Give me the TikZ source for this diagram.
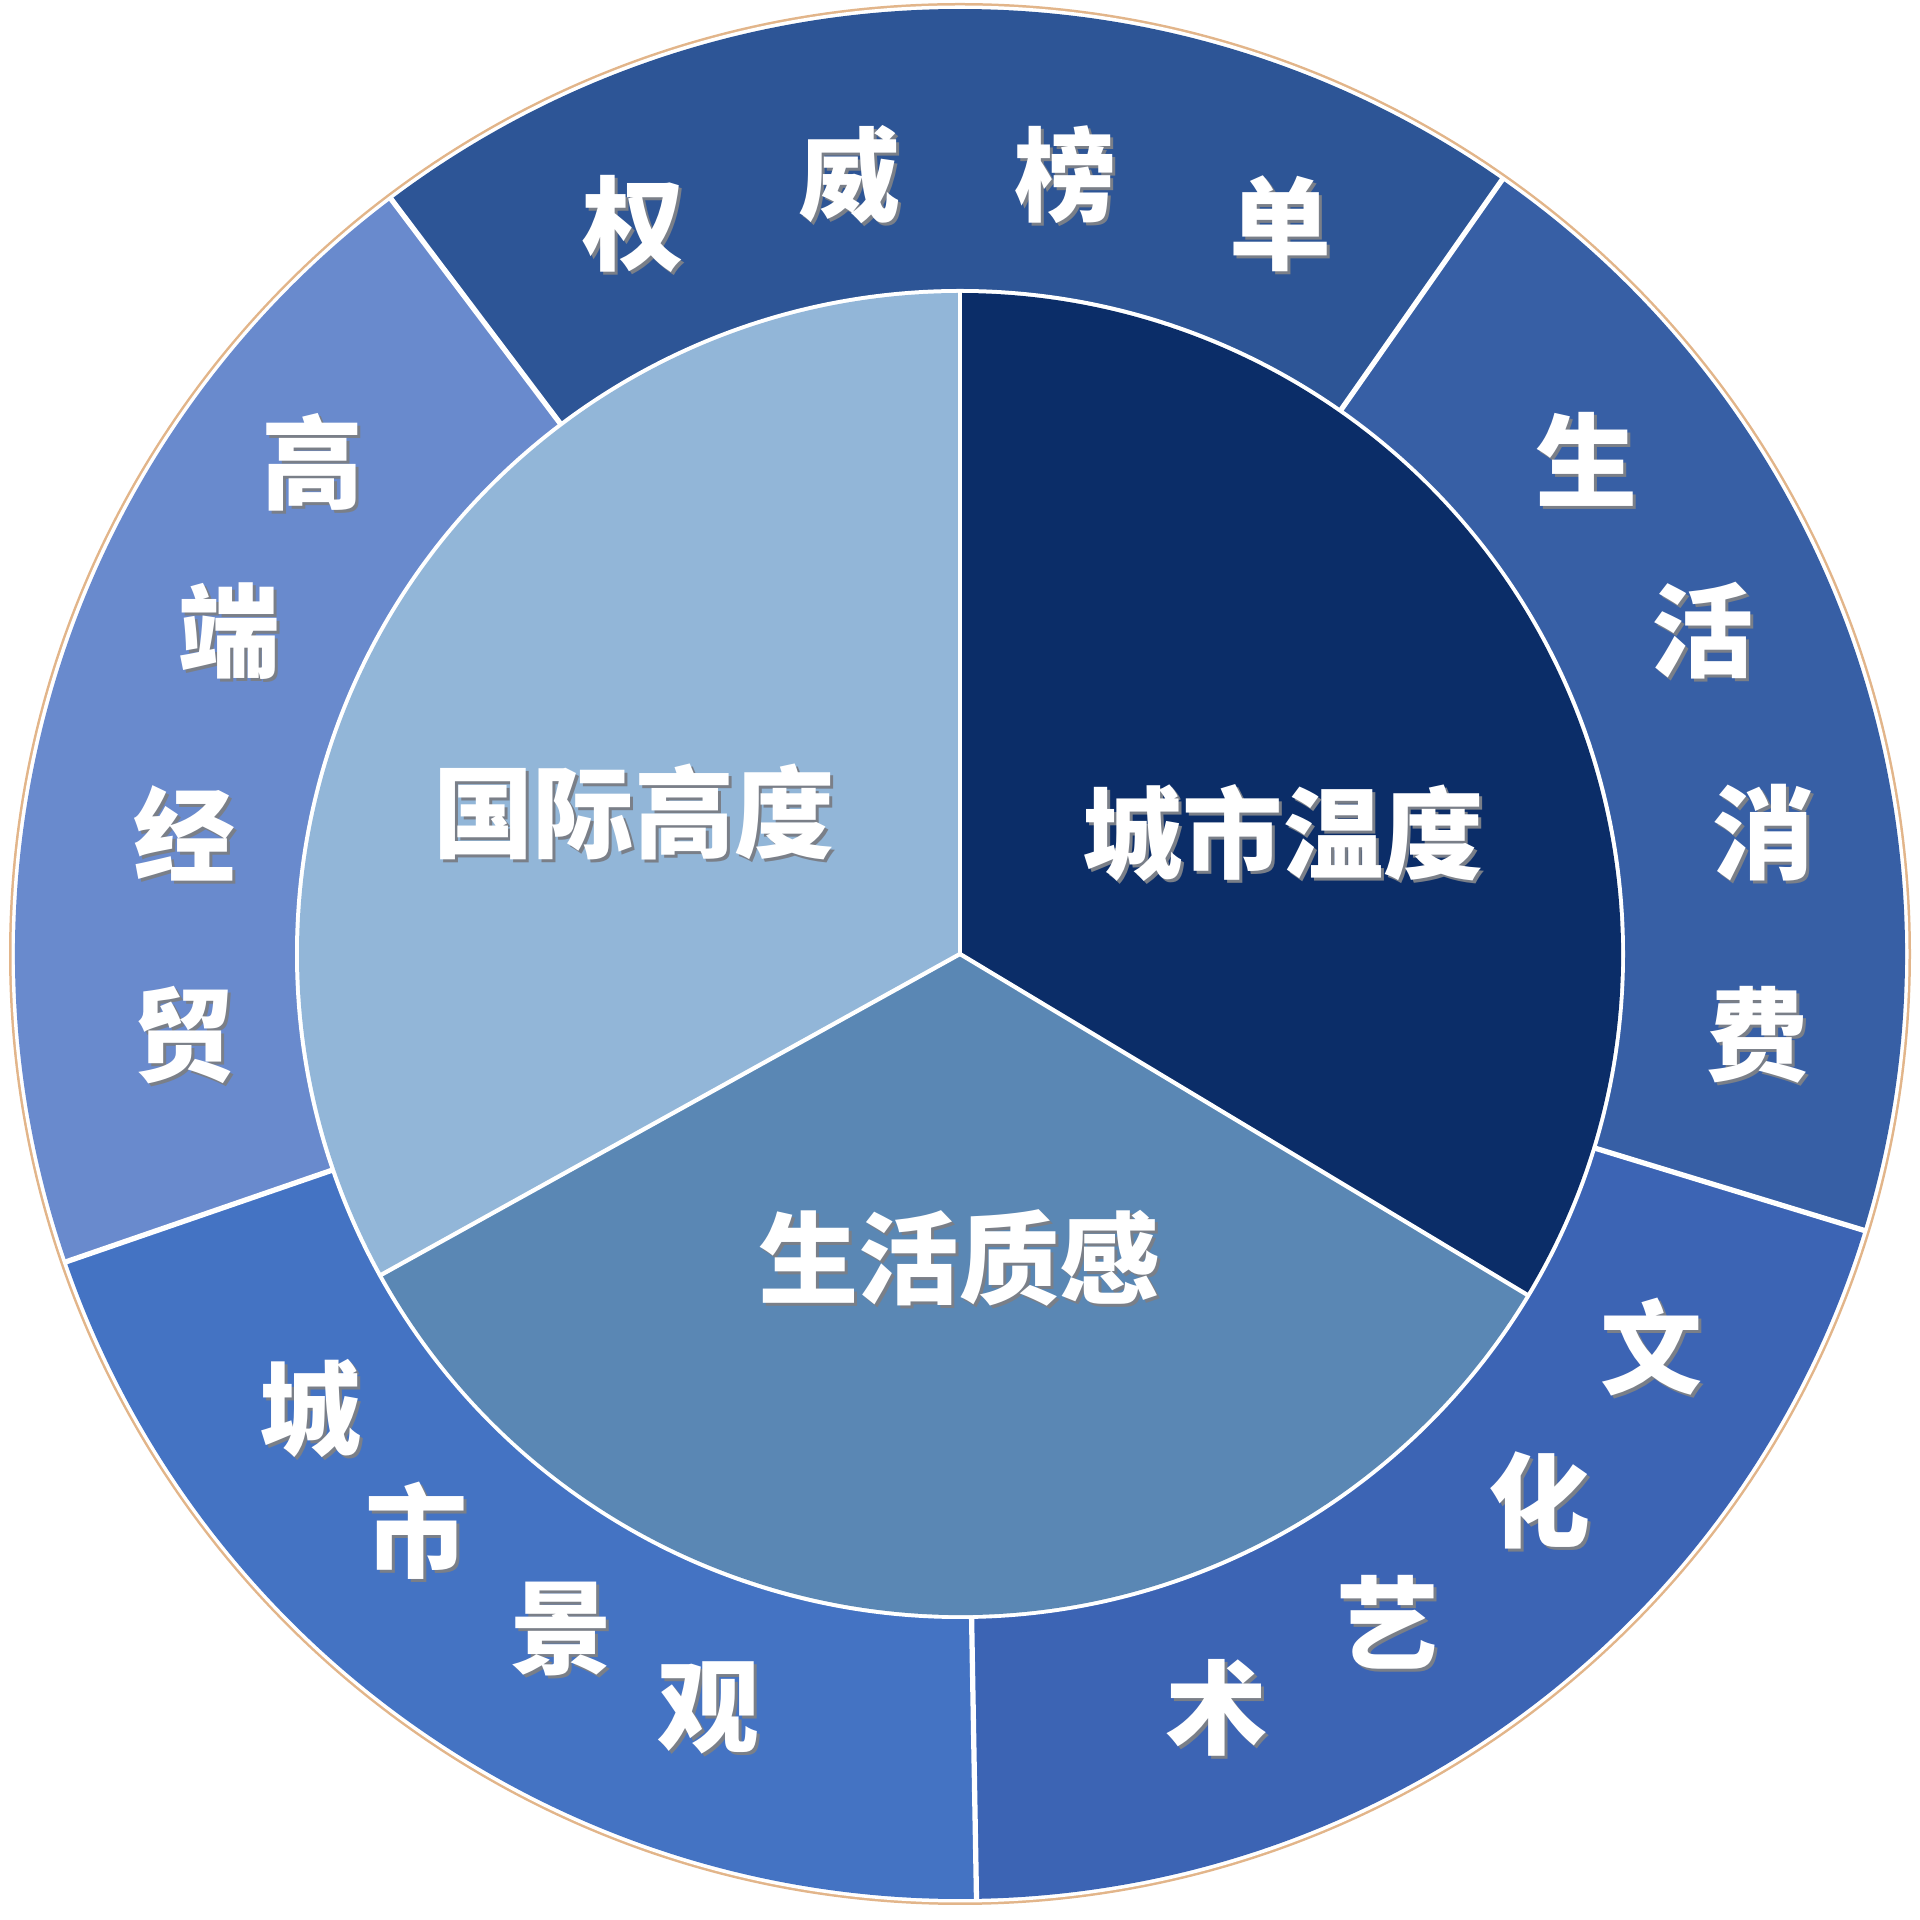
\documentclass[tikz,border=0pt]{standalone}
\usepackage{fontspec}
\newfontfamily\cjk{Noto Sans CJK SC}
\definecolor{segTop}{HTML}{2D5596}
\definecolor{segRight}{HTML}{375FA5}
\definecolor{segBR}{HTML}{3C64B4}
\definecolor{segBL}{HTML}{4473C3}
\definecolor{segLeft}{HTML}{698ACD}
\definecolor{pieLeft}{HTML}{92B6D8}
\definecolor{pieRight}{HTML}{0B2D68}
\definecolor{pieBottom}{HTML}{5A87B4}
\definecolor{rimTan}{HTML}{E2B58A}
\definecolor{shadowGray}{HTML}{7A7F88}
\tikzset{
  ringchar/.style={font=\cjk\bfseries\fontsize{29pt}{29pt}\selectfont, text=white, inner sep=0pt},
  piechar/.style={font=\cjk\bfseries\fontsize{28.5pt}{28.5pt}\selectfont, text=white, inner sep=0pt},
  ringsep/.style={draw=white, line width=1.5pt},
  piesep/.style={draw=white, line width=1.2pt},
}
% text with a soft grey shadow
\newcommand{\shtext}[4]{%
  \node[#1, text=shadowGray] at ([shift={(3,-3)}]#2) {#4};
  \node[#1] (#3) at (#2) {#4};}
\begin{document}
\begin{tikzpicture}[x=0.01cm,y=0.01cm]
\useasboundingbox (0,0) rectangle (1920,1920);
\coordinate (C) at (960,966);
\begin{scope}[shift={(C)}]
  % rim
  \fill[rimTan] (0,0) circle[radius=951];
  \fill[white] (0,0) circle[radius=948.5];
  % outer ring segments
  \fill[segTop]   (0,0) -- (55:945)  arc[start angle=55,  end angle=127, radius=945] -- cycle;
  \fill[segLeft]  (0,0) -- (127:945) arc[start angle=127, end angle=199, radius=945] -- cycle;
  \fill[segBL]    (0,0) -- (199:945) arc[start angle=199, end angle=271, radius=945] -- cycle;
  \fill[segBR]    (0,0) -- (271:945) arc[start angle=271, end angle=343, radius=945] -- cycle;
  \fill[segRight] (0,0) -- (343:945) arc[start angle=343, end angle=415, radius=945] -- cycle;
  % ring separators
  \foreach \a in {55,127,199,271,343} \draw[ringsep] (\a:662) -- (\a:946);
  % inner pie
  \fill[white] (0,0) circle[radius=665];
  \fill[pieLeft]   (0,0) -- (90:661)  arc[start angle=90,  end angle=209, radius=661] -- cycle;
  \fill[pieBottom] (0,0) -- (209:661) arc[start angle=209, end angle=329, radius=661] -- cycle;
  \fill[pieRight]  (0,0) -- (329:661) arc[start angle=329, end angle=450, radius=661] -- cycle;
  \foreach \a in {90,209,329} \draw[piesep] (0,0) -- (\a:662);
\end{scope}
% inner labels
\shtext{piechar}{634,1108}{tIntl}{国际高度}
\shtext{piechar}{1283,1087}{tCity}{城市温度}
\shtext{piechar}{959,662}{tLife}{生活质感}
% top: 权威榜单
\shtext{ringchar}{633,1696}{q1}{权}
\shtext{ringchar}{849,1745}{q2}{威}
\shtext{ringchar}{1065,1745}{q3}{榜}
\shtext{ringchar}{1280,1696}{q4}{单}
% right: 生活消费
\shtext{ringchar}{1586,1461}{s1}{生}
\shtext{ringchar}{1702,1289}{s2}{活}
\shtext{ringchar}{1763,1087}{s3}{消}
\shtext{ringchar}{1757,885}{s4}{费}
% bottom right: 文化艺术
\shtext{ringchar}{1651,573}{w1}{文}
\shtext{ringchar}{1539,420}{w2}{化}
\shtext{ringchar}{1387,298}{w3}{艺}
\shtext{ringchar}{1216,212}{w4}{术}
% bottom left: 城市景观
\shtext{ringchar}{310,512}{c1}{城}
\shtext{ringchar}{416,389}{c2}{市}
\shtext{ringchar}{561,291}{c3}{景}
\shtext{ringchar}{708,212}{c4}{观}
% left: 高端经贸
\shtext{ringchar}{312,1458}{g1}{高}
\shtext{ringchar}{229,1289}{g2}{端}
\shtext{ringchar}{184,1087}{g3}{经}
\shtext{ringchar}{184,885}{g4}{贸}
\end{tikzpicture}
\end{document}
